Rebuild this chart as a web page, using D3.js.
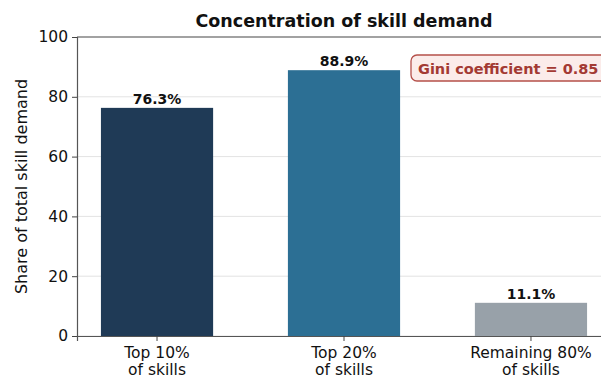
<!DOCTYPE html>
<html>
<head>
<meta charset="utf-8">
<script src="https://cdn.jsdelivr.net/npm/d3@7"></script>
<style>
  html, body { margin: 0; padding: 0; background: #fff; }
  svg { display: block; font-family: "DejaVu Sans", sans-serif; }
</style>
</head>
<body>
<svg id="chart" width="601" height="376"></svg>
<script>
// Share of skill demand captured by each slice of the skill distribution
const categories = ["Top 10%\nof skills", "Top 20%\nof skills", "Remaining 80%\nof skills"];
const shares = [76.3, 88.9, 11.1];
const barColors = ["#1f3a56", "#2c6f94", "#98a1a9"];
const yTicks = [0, 20, 40, 60, 80, 100];
const giniValue = 0.85;

const svg = d3.select("#chart");
const margin = { left: 77, top: 37, bottom: 40 };
const plotRight = 611;           // axis extends past the visible frame
const height = 376;

const x = d3.scaleBand()
  .domain(categories)
  .range([margin.left, plotRight])
  .paddingInner(0.4)
  .paddingOuter(0.128);

const y = d3.scaleLinear()
  .domain([0, 100])
  .range([height - margin.bottom, margin.top]);

// horizontal grid
svg.append("g")
  .selectAll("line")
  .data(yTicks)
  .join("line")
  .attr("x1", margin.left)
  .attr("x2", plotRight)
  .attr("y1", d => y(d))
  .attr("y2", d => y(d))
  .attr("stroke", "#e3e3e3")
  .attr("stroke-width", 1);

// bars
svg.append("g")
  .selectAll("rect")
  .data(shares)
  .join("rect")
  .attr("x", (d, i) => x(categories[i]))
  .attr("width", x.bandwidth())
  .attr("y", d => y(d))
  .attr("height", d => y(0) - y(d))
  .attr("fill", (d, i) => barColors[i]);

// value labels
svg.append("g")
  .selectAll("text")
  .data(shares)
  .join("text")
  .attr("x", (d, i) => x(categories[i]) + x.bandwidth() / 2)
  .attr("y", d => y(d) - 4)
  .attr("text-anchor", "middle")
  .attr("font-size", 14)
  .attr("font-weight", "bold")
  .attr("fill", "#111")
  .text(d => d.toFixed(1) + "%");

// y axis
const yAxis = svg.append("g")
  .attr("transform", `translate(${margin.left},0)`)
  .call(d3.axisLeft(y).tickValues(yTicks).tickSize(5).tickPadding(4));
yAxis.select(".domain").attr("stroke", "#555").attr("stroke-width", 1.2);
yAxis.selectAll(".tick line").attr("stroke", "#444");
yAxis.selectAll(".tick text").attr("font-size", 15.5).attr("fill", "#111")
  .attr("font-family", "DejaVu Sans, sans-serif");

// x axis
const xAxis = svg.append("g")
  .attr("transform", `translate(0,${y(0)})`)
  .call(d3.axisBottom(x).tickSize(5).tickPadding(3));
xAxis.select(".domain").attr("stroke", "#555").attr("stroke-width", 1.2);
xAxis.selectAll(".tick line").attr("stroke", "#444");
xAxis.selectAll(".tick text").remove();
xAxis.selectAll(".tick").each(function(d) {
  const lines = d.split("\n");
  const t = d3.select(this).append("text")
    .attr("text-anchor", "middle")
    .attr("font-size", 15.5)
    .attr("fill", "#111")
    .attr("font-family", "DejaVu Sans, sans-serif");
  lines.forEach((ln, k) => {
    t.append("tspan").attr("x", 0).attr("y", 22 + k * 17).text(ln);
  });
});

// top spine
svg.append("line")
  .attr("x1", margin.left).attr("x2", plotRight)
  .attr("y1", y(100)).attr("y2", y(100))
  .attr("stroke", "#555").attr("stroke-width", 1.2);

// title
svg.append("text")
  .attr("x", 344)
  .attr("y", 27)
  .attr("text-anchor", "middle")
  .attr("font-size", 17.5)
  .attr("font-weight", "bold")
  .attr("fill", "#111")
  .text("Concentration of skill demand");

// y label
svg.append("text")
  .attr("transform", `translate(27,${(y(0) + y(100)) / 2}) rotate(-90)`)
  .attr("text-anchor", "middle")
  .attr("font-size", 16)
  .attr("fill", "#111")
  .text("Share of total skill demand");

// Gini annotation box
const gini = svg.append("g").attr("transform", "translate(411,55)");
gini.append("rect")
  .attr("width", 210)
  .attr("height", 26)
  .attr("rx", 6)
  .attr("fill", "#fbecea")
  .attr("stroke", "#b5504a")
  .attr("stroke-width", 1.3);
gini.append("text")
  .attr("x", 7)
  .attr("y", 18.5)
  .attr("font-size", 14.5)
  .attr("font-weight", "bold")
  .attr("fill", "#a33a33")
  .text("Gini coefficient = " + giniValue.toFixed(2));
</script>
</body>
</html>
